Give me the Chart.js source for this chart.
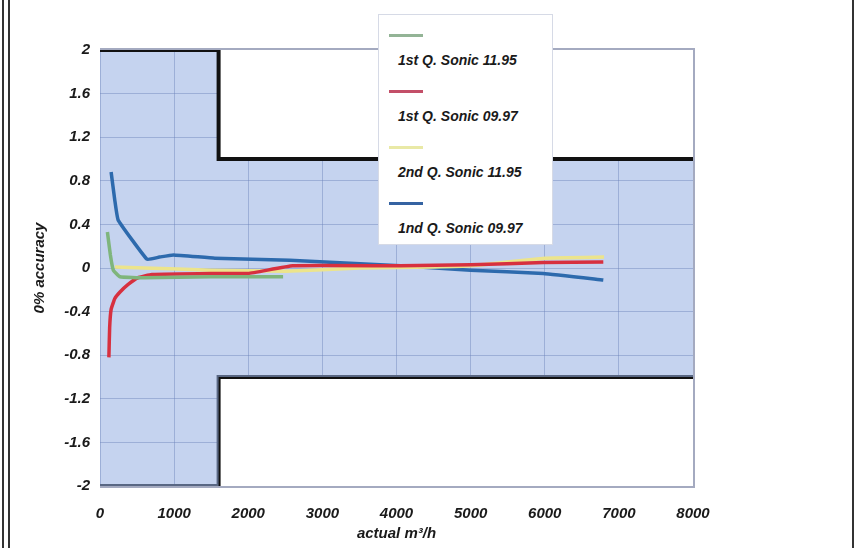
<!DOCTYPE html>
<html>
<head>
    <title>Accuracy vs flow</title>
    <script src="https://cdn.jsdelivr.net/npm/chart.js"></script>
    <style>
        body { margin: 0; background: #fff; overflow: hidden; }
        #wrap { position: relative; width: 859px; height: 548px; }
        #frameL1, #frameL2, #frameR { position: absolute; top: 0; height: 548px; width: 2px; background: #333; }
        #frameL1 { left: 2px; }
        #frameL2 { left: 8px; }
        #frameR { left: 852px; }
        #legend {
            position: absolute; left: 378px; top: 14px; width: 175px; height: 231px;
            background: #fff; border: 1px solid #d6dae6; box-sizing: border-box;
            font: italic bold 14px "Liberation Sans", Arial, sans-serif; color: #1a1a1a;
        }
        .swatch { position: absolute; left: 10px; width: 34px; height: 3px; }
        .label { position: absolute; left: 19px; white-space: nowrap; line-height: 16px; }
    </style>
</head>
<body>
<div id="wrap">
    <canvas id="accuracyChart"></canvas>
    <div id="frameL1"></div><div id="frameL2"></div><div id="frameR"></div>
    <div id="legend"></div>
</div>

<script>
    // axis ticks
    const xTicks = [0, 1000, 2000, 3000, 4000, 5000, 6000, 7000, 8000];
    const yTicks = [-2, -1.6, -1.2, -0.8, -0.4, 0, 0.4, 0.8, 1.2, 1.6, 2];

    // tolerance envelope
    const limitFlow = [0, 1600, 1600, 8000];
    const upperLimit = [2, 2, 1, 1];
    const lowerLimit = [-2, -2, -1, -1];

    const seriesNames = ['1st Q. Sonic 11.95', '1st Q. Sonic 09.97', '2nd Q. Sonic 11.95', '1nd Q. Sonic 09.97'];
    const seriesColors = ['#7fb57c', '#d7303f', '#ece48c', '#2d6aad'];
    const legendColors = ['#93b496', '#c34f68', '#e9e9a6', '#3563a2'];

    // readings (flow m3/h, % accuracy)
    const q1s1195Flow = [100, 140, 180, 270, 600, 1500, 2470];
    const q1s1195Acc  = [0.33, 0.12, -0.02, -0.08, -0.09, -0.08, -0.08];

    const q1s0997Flow = [120, 130, 150, 200, 270, 380, 510, 700, 1500, 2000, 2600, 4050, 5000, 5980, 6790];
    const q1s0997Acc  = [-0.82, -0.55, -0.38, -0.28, -0.22, -0.15, -0.09, -0.06, -0.05, -0.05, 0.02, 0.02, 0.03, 0.05, 0.055];

    const q2s1195Flow = [200, 600, 1500, 2500, 3500, 4500, 5000, 6000, 6800];
    const q2s1195Acc  = [0.01, 0.0, -0.02, -0.03, 0.0, 0.01, 0.02, 0.09, 0.1];

    const q1s0997bFlow = [150, 200, 245, 635, 800, 990, 1550, 2560, 4050, 5000, 5980, 6790];
    const q1s0997bAcc  = [0.88, 0.62, 0.44, 0.08, 0.1, 0.12, 0.09, 0.07, 0.02, -0.02, -0.05, -0.11];

    const seriesFlow = [q1s1195Flow, q1s0997Flow, q2s1195Flow, q1s0997bFlow];
    const seriesAcc = [q1s1195Acc, q1s0997Acc, q2s1195Acc, q1s0997bAcc];
    const drawOrder = [1, 2, 3, 4];

    const toPoints = (xs, ys) => xs.map((x, i) => ({ x: x, y: ys[i] }));
    const tickFont = { family: '"Liberation Sans", Arial, sans-serif', size: 15, style: 'italic', weight: 'bold' };

    const datasets = seriesNames.map((name, i) => ({
        label: name,
        data: toPoints(seriesFlow[i], seriesAcc[i]),
        borderColor: seriesColors[i],
        borderWidth: 3.5,
        pointRadius: 0,
        fill: false,
        tension: 0.1,
        order: drawOrder[i]
    }));

    // envelope lines, blue band between them, white outside
    datasets.push({
        label: 'upper limit',
        data: toPoints(limitFlow, upperLimit),
        borderColor: '#111',
        borderWidth: 4,
        pointRadius: 0,
        tension: 0,
        fill: '+1',
        backgroundColor: 'rgba(150, 175, 225, 0.55)',
        order: 11
    });
    datasets.push({
        label: 'lower limit',
        data: toPoints(limitFlow, lowerLimit),
        borderColor: '#111',
        borderWidth: 4,
        pointRadius: 0,
        tension: 0,
        fill: false,
        order: 11
    });
    datasets.push({
        label: 'above',
        data: toPoints(limitFlow, upperLimit),
        borderWidth: 0,
        pointRadius: 0,
        tension: 0,
        fill: 'end',
        backgroundColor: '#fff',
        order: 12
    });
    datasets.push({
        label: 'below',
        data: toPoints(limitFlow, lowerLimit),
        borderWidth: 0,
        pointRadius: 0,
        tension: 0,
        fill: 'start',
        backgroundColor: '#fff',
        order: 12
    });

    // thin frame on top, right and bottom of the plot
    const plotFrame = {
        id: 'plotFrame',
        beforeDatasetsDraw(chart) {
            const a = chart.chartArea;
            const ctx = chart.ctx;
            ctx.save();
            ctx.strokeStyle = '#a4aac0';
            ctx.lineWidth = 2;
            ctx.beginPath();
            ctx.moveTo(a.left, a.top - 1);
            ctx.lineTo(a.right + 1, a.top - 1);
            ctx.lineTo(a.right + 1, a.bottom + 1);
            ctx.lineTo(a.left, a.bottom + 1);
            ctx.stroke();
            ctx.restore();
        }
    };

    const canvasBg = {
        id: 'canvasBg',
        beforeDraw(chart) {
            const ctx = chart.ctx;
            ctx.save();
            ctx.fillStyle = '#fff';
            ctx.fillRect(0, 0, chart.width, chart.height);
            ctx.restore();
        }
    };

    new Chart(document.getElementById('accuracyChart'), {
        type: 'line',
        data: { datasets: datasets },
        plugins: [canvasBg, plotFrame],
        options: {
            responsive: true,
            maintainAspectRatio: false,
            animation: false,
            layout: { padding: { top: 50, right: 166, bottom: 0, left: 0 } },
            plugins: { legend: { display: false }, tooltip: { enabled: false } },
            scales: {
                x: {
                    type: 'linear',
                    min: 0,
                    max: 8000,
                    afterBuildTicks: s => { s.ticks = xTicks.map(v => ({ value: v })); },
                    afterFit: s => { s.height = 62; },
                    grid: { color: 'rgba(60, 80, 140, 0.45)', lineWidth: 1, drawTicks: false },
                    border: { display: false },
                    ticks: { font: tickFont, color: '#1a1a1a', padding: 19, maxRotation: 0, callback: v => String(v) },
                    title: { display: true, text: 'actual m\u00b3/h', font: tickFont, color: '#1a1a1a', padding: { top: 0, bottom: 5 } }
                },
                y: {
                    type: 'linear',
                    min: -2,
                    max: 2,
                    afterBuildTicks: s => { s.ticks = yTicks.map(v => ({ value: v })); },
                    afterFit: s => { s.width = 100; },
                    grid: { color: 'rgba(60, 80, 140, 0.45)', lineWidth: 1, drawTicks: false },
                    border: { display: false },
                    ticks: { font: tickFont, color: '#1a1a1a', padding: 10, callback: v => String(v) },
                    title: { display: true, text: '0% accuracy', font: tickFont, color: '#1a1a1a', padding: { top: 31, bottom: 0 } }
                }
            }
        }
    });

    // legend box: line sample above each name
    const legend = document.getElementById('legend');
    seriesNames.forEach((name, i) => {
        const lineTop = 19 + i * 56;
        const sw = document.createElement('div');
        sw.className = 'swatch';
        sw.style.top = lineTop + 'px';
        sw.style.background = legendColors[i];
        legend.appendChild(sw);
        const lb = document.createElement('div');
        lb.className = 'label';
        lb.style.top = (lineTop + 18) + 'px';
        lb.textContent = name;
        legend.appendChild(lb);
    });
</script>
</body>
</html>
